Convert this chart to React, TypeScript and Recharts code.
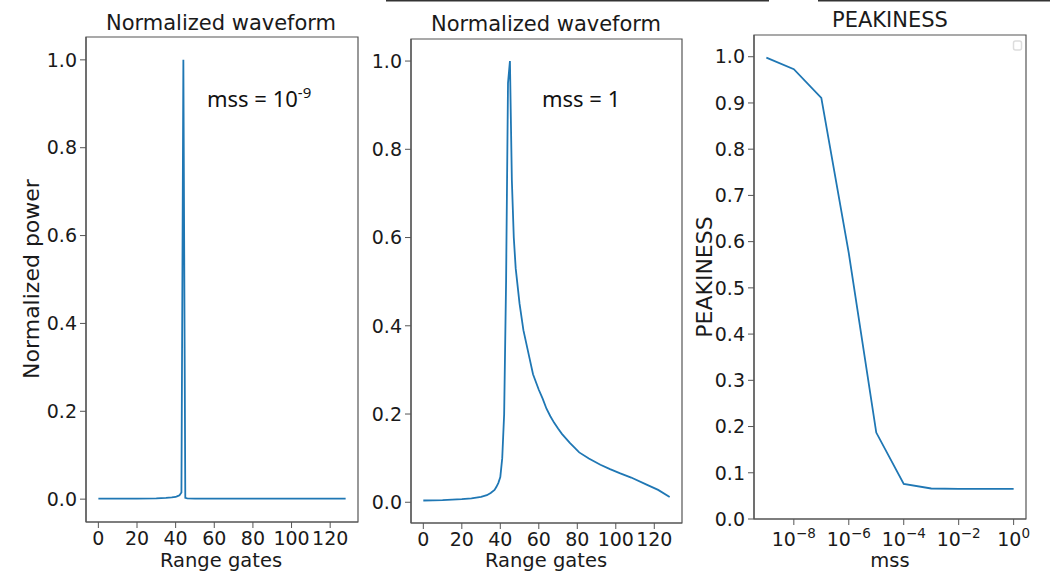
import { LineChart, Line, XAxis, YAxis, ReferenceArea } from "recharts";

// panel 1: mss = 1e-9 waveform (range gate -> normalized power)
const gates1 = [0, 10, 20, 30, 35, 38, 40, 41, 42, 43, 44, 45, 46, 50, 60, 80, 100, 120, 128];
const power1 = [0.001, 0.001, 0.001, 0.002, 0.003, 0.004, 0.005, 0.007, 0.009, 0.015, 1.0, 0.003, 0.002, 0.001, 0.001, 0.001, 0.001, 0.001, 0.001];

// panel 2: mss = 1 waveform
const gates2 = [0, 10, 20, 25, 30, 33, 35, 37, 38, 39, 40, 41, 42, 43, 44, 45, 46, 47, 48, 50, 52, 55, 57, 60, 62, 64, 66, 68, 70, 72, 76, 81, 86, 92, 97, 102, 108, 116, 122, 128];
const power2 = [0.004, 0.005, 0.007, 0.009, 0.012, 0.016, 0.021, 0.028, 0.035, 0.044, 0.057, 0.1, 0.2, 0.5, 0.95, 1.0, 0.73, 0.6, 0.53, 0.45, 0.39, 0.33, 0.29, 0.255, 0.235, 0.212, 0.195, 0.18, 0.167, 0.155, 0.135, 0.113, 0.099, 0.085, 0.075, 0.066, 0.056, 0.04, 0.028, 0.012];

// panel 3: peakiness vs mss
const mss = [1e-9, 1e-8, 1e-7, 1e-6, 1e-5, 1e-4, 1e-3, 1e-2, 1e-1, 1];
const peakiness = [0.998, 0.973, 0.911, 0.575, 0.187, 0.076, 0.066, 0.065, 0.065, 0.065];

const gateTicks = [0, 20, 40, 60, 80, 100, 120];
const powerTicks = [0, 0.2, 0.4, 0.6, 0.8, 1.0];
const peakTicks = [0, 0.1, 0.2, 0.3, 0.4, 0.5, 0.6, 0.7, 0.8, 0.9, 1.0];
const mssTicks = [1e-8, 1e-6, 1e-4, 1e-2, 1];

const wave1 = gates1.map((g, i) => ({ gate: g, power: power1[i] }));
const wave2 = gates2.map((g, i) => ({ gate: g, power: power2[i] }));
const peak = mss.map((m, i) => ({ mss: m, peakiness: peakiness[i] }));

const BLUE = "#1f77b4";
const SPINE = "#555";
const FONT = "DejaVu Sans";
const tickStyle = { fontSize: 19, fill: "#1a1a1a", fontFamily: FONT };
const GATE_DOMAIN = [-6.4, 134.4];
const MSS_DOMAIN = [Math.pow(10, -9.45), Math.pow(10, 0.45)];

const LogTick = ({ x, y, payload }: any) => {
  const exp = Math.round(Math.log10(payload.value));
  const s = exp < 0 ? "\u2212" + Math.abs(exp) : String(exp);
  return (
    <text x={x} y={y + 17} textAnchor="middle" fill="#1a1a1a" fontFamily={FONT} fontSize={19}>
      <tspan>10</tspan>
      <tspan dy={-8} fontSize={13.5}>{s}</tspan>
    </text>
  );
};

function WaveChart({ data, yWidth, width, right, top, xHeight, yDomain }: any) {
  return (
    <LineChart width={width} height={573} data={data} margin={{ top, right, bottom: 0, left: 0 }}>
      <XAxis
        dataKey="gate"
        type="number"
        domain={GATE_DOMAIN}
        ticks={gateTicks}
        interval={0}
        height={xHeight}
        tickSize={6}
        tickMargin={4}
        tick={tickStyle}
        stroke={SPINE}
        axisLine={{ stroke: SPINE, strokeWidth: 1.2 }}
      />
      <YAxis
        type="number"
        domain={yDomain}
        ticks={powerTicks}
        interval={0}
        width={yWidth}
        tickSize={6}
        tickMargin={3}
        tick={tickStyle}
        tickFormatter={(v: number) => v.toFixed(1)}
        stroke={SPINE}
        axisLine={{ stroke: SPINE, strokeWidth: 1.2 }}
        allowDataOverflow
      />
      {/* box around the plot */}
      <ReferenceArea
        x1={GATE_DOMAIN[0]}
        x2={GATE_DOMAIN[1]}
        y1={yDomain[0]}
        y2={yDomain[1]}
        fill="none"
        stroke={SPINE}
        strokeWidth={1.2}
        ifOverflow="visible"
      />
      <Line type="linear" dataKey="power" stroke={BLUE} strokeWidth={1.8} dot={false} isAnimationActive={false} />
    </LineChart>
  );
}

export default function App() {
  return (
    <div style={{ position: "absolute", left: 0, top: 0, width: 1050, height: 573, background: "#fff", overflow: "hidden" }}>
      <div style={{ position: "absolute", left: 0, top: 0 }}>
        <WaveChart data={wave1} width={370} yWidth={86} right={12} top={37} xHeight={51} yDomain={[-0.052, 1.052]} />
      </div>
      <div style={{ position: "absolute", left: 360, top: 0 }}>
        <WaveChart data={wave2} width={340} yWidth={51} right={18} top={39} xHeight={50} yDomain={[-0.047, 1.05]} />
      </div>
      <div style={{ position: "absolute", left: 690, top: 0 }}>
        <LineChart width={360} height={573} data={peak} margin={{ top: 35, right: 24, bottom: 0, left: 0 }}>
          <XAxis
            dataKey="mss"
            type="number"
            scale="log"
            domain={MSS_DOMAIN}
            allowDataOverflow
            ticks={mssTicks}
            interval={0}
            height={54}
            tickSize={6}
            tickMargin={4}
            tick={<LogTick />}
            stroke={SPINE}
            axisLine={{ stroke: SPINE, strokeWidth: 1.2 }}
          />
          <YAxis
            type="number"
            domain={[0, 1.047]}
            ticks={peakTicks}
            interval={0}
            width={64}
            tickSize={6}
            tickMargin={3}
            tick={tickStyle}
            tickFormatter={(v: number) => v.toFixed(1)}
            stroke={SPINE}
            axisLine={{ stroke: SPINE, strokeWidth: 1.2 }}
            allowDataOverflow
          />
          <ReferenceArea
            x1={MSS_DOMAIN[0]}
            x2={MSS_DOMAIN[1]}
            y1={0}
            y2={1.047}
            fill="none"
            stroke={SPINE}
            strokeWidth={1.2}
            ifOverflow="visible"
          />
          <Line type="linear" dataKey="peakiness" stroke={BLUE} strokeWidth={1.8} dot={false} isAnimationActive={false} />
        </LineChart>
      </div>
      <svg width={1050} height={573} style={{ position: "absolute", left: 0, top: 0, pointerEvents: "none" }}>
        <line x1={386} y1={0.8} x2={769} y2={0.8} stroke="#333" strokeWidth={1.6} />
        <line x1={818} y1={0.8} x2={1050} y2={0.8} stroke="#333" strokeWidth={1.6} />
        <g fontFamily={FONT} fill="#1a1a1a">
          <text x={221} y={30} fontSize={21} textAnchor="middle">Normalized waveform</text>
          <text x={546} y={31} fontSize={21} textAnchor="middle">Normalized waveform</text>
          <text x={890} y={27} fontSize={21} textAnchor="middle">PEAKINESS</text>
          <text x={221} y={567} fontSize={19.5} textAnchor="middle">Range gates</text>
          <text x={546} y={567} fontSize={19.5} textAnchor="middle">Range gates</text>
          <text x={890} y={567} fontSize={19.5} textAnchor="middle">mss</text>
          <text x={39} y={279} fontSize={22} textAnchor="middle" transform="rotate(-90 39 279)">Normalized power</text>
          <text x={712} y={277} fontSize={22} textAnchor="middle" transform="rotate(-90 712 277)">PEAKINESS</text>
        </g>
        <g fontFamily="Noto Sans" fill="#111">
          <text x={207} y={107} fontSize={22}>
            mss = 10<tspan dy={-9} fontSize={15}>-9</tspan>
          </text>
          <text x={542} y={107} fontSize={22}>mss = 1</text>
        </g>
        <rect x={1013.5} y={41} width={8} height={9} rx={2} fill="none" stroke="#ddd" strokeWidth={1.5} />
      </svg>
    </div>
  );
}
